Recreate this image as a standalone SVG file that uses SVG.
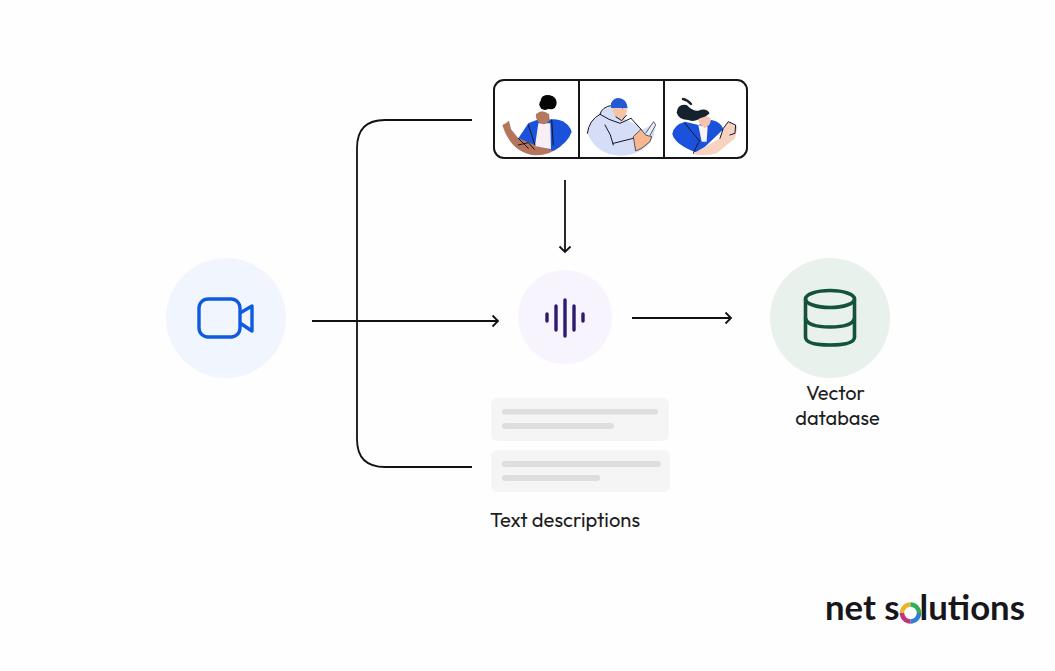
<svg xmlns="http://www.w3.org/2000/svg" width="1055" height="671" viewBox="0 0 1055 671">
<style>
.lbl{font-family:"Outfit","Lato","Liberation Sans",sans-serif;font-size:20px;font-weight:400;fill:#1d1d1f}
.con{fill:none;stroke:#111;stroke-width:1.8}
.ink{fill:none;stroke:#15151f;stroke-width:3;stroke-linecap:round;stroke-linejoin:round}
.card{fill:#f5f5f5}.bar{fill:#dedede}
.wave{stroke:#2b1a6e;stroke-width:3.4;stroke-linecap:round}
</style>
<defs>
<marker id="arr" markerWidth="12" markerHeight="14" refX="9.5" refY="7" orient="auto" markerUnits="userSpaceOnUse"><path d="M4 1.500 L9.500 7 L4 12.500" fill="none" stroke="#111" stroke-width="1.8"/></marker>
</defs>
<rect width="1055" height="671" fill="#fefefe"/>
<g id="connectors">
<path class="con" d="M472 120H385Q357 120 357 148V439Q357 467 385 467H472"/>
<path class="con" d="M312 321H498" marker-end="url(#arr)"/>
<path class="con" d="M565 180V252" marker-end="url(#arr)"/>
<path class="con" d="M632 318H731" marker-end="url(#arr)"/>
</g>
<g id="video-node">
<circle cx="226" cy="318" r="60" fill="#f1f5fe"/>
<rect x="199" y="299" width="41" height="38" rx="9" fill="none" stroke="#0f5be0" stroke-width="3.4"/>
<path d="M240 313L252 306V331L240 323" fill="none" stroke="#0f5be0" stroke-width="3.4" stroke-linejoin="round"/>
</g>
<g id="frames-node">
<rect x="494" y="80" width="253" height="78" rx="10" fill="#fff" stroke="#15151a" stroke-width="2"/>
<path d="M579 80V158M664 80V158" stroke="#15151a" stroke-width="2"/>
<g transform="translate(485 70) scale(.3333)">
<g id="person-1">
<path d="M52 165L62 160L72 152L78 178L100 205L195 235L232 225Q195 257 150 256Q78 248 52 165Z" fill="#b5745c"/>
<path d="M100 205L130 160L155 150L205 148Q248 150 260 185Q250 218 205 242L150 225Z" fill="#1a52dc"/>
<path d="M160 160L196 160L198 238L150 228Z" fill="#f8eff6"/>
<path d="M153 128Q172 112 192 130L194 150Q182 168 165 160Q150 150 153 128Z" fill="#b57a5e"/>
<path d="M152 130Q170 112 193 130" fill="none" stroke="#fff" stroke-width="5"/>
<ellipse cx="180" cy="103" rx="17" ry="17" fill="#050505"/>
<ellipse cx="198" cy="98" rx="17" ry="20" fill="#050505"/>
<ellipse cx="188" cy="88" rx="20" ry="13" fill="#050505"/>
<path class="ink" stroke-width="2" d="M200 150L205 225M130 165L150 225M100 205L130 235M100 225L130 218L148 238"/>
</g>
<g id="person-2">
<path d="M307 190Q312 150 345 135Q350 112 385 108L415 145L455 165L470 180L510 160Q512 215 470 240Q440 258 405 257Q335 255 307 190Z" fill="#d5ddf7"/>
<path class="ink" stroke-width="2.2" d="M307 190Q312 150 345 133M345 133Q350 110 382 106M345 133Q370 150 405 160L438 145M360 165Q380 195 385 225M438 145L470 180M385 220L445 205M415 145L412 108"/>
<path d="M378 100Q385 84 402 84Q425 86 428 115L378 114Z" fill="#2458d4"/>
<path d="M382 114L426 116Q425 145 405 150Q385 140 382 114Z" fill="#f6c4a5"/>
<path d="M392 140L410 152L425 135" fill="none" stroke="#15151f" stroke-width="3"/>
<path d="M445 200L468 178L482 195L500 200L495 215L470 235L452 243Z" fill="#f6b88e" stroke="#15151f" stroke-width="2" stroke-linejoin="round"/>
<path d="M482 190L506 155L512 165L494 198" fill="#e8eefc" stroke="#15151f" stroke-width="2"/>
</g>
<g id="person-3">
<path d="M562 192Q565 165 600 155L640 165L680 150Q708 155 715 178L640 250Q570 225 562 192Z" fill="#1a52dc"/>
<path d="M622 252L705 205L715 175L730 155L758 170L750 205L695 250Q660 260 622 252Z" fill="#f8d2c0"/>
<path class="ink" stroke-width="2" d="M705 205L715 175L730 155L752 165L750 190L735 195M600 160L645 215M625 250L640 218"/>
<path d="M640 165L668 170L665 215L650 215Z" fill="#f9f3f6"/>
<path d="M638 145Q660 130 677 145Q680 165 660 174Q642 165 638 145Z" fill="#f2c3ae"/>
<path d="M575 128Q578 100 605 105Q625 125 640 122Q665 112 674 130Q665 140 645 145Q630 158 610 150Q582 150 575 128Z" fill="#13222d"/>
<path d="M594 87Q608 90 618 102" fill="none" stroke="#13222d" stroke-width="7" stroke-linecap="round"/>
</g>
</g>
</g>
<g id="audio-node">
<circle cx="565" cy="317" r="47" fill="#f7f4fe"/>
<path class="wave" d="M547 314V321M556 306V330M565 300V336M574 306V330M583 314V321"/>
</g>
<g id="text-node">
<rect class="card" x="491" y="398" width="178" height="43" rx="6"/>
<rect class="bar" x="502" y="409" width="156" height="5.500" rx="2.700"/>
<rect class="bar" x="502" y="423" width="112" height="6" rx="3"/>
<rect class="card" x="491" y="450" width="179" height="42" rx="6"/>
<rect class="bar" x="502" y="461" width="159" height="6" rx="3"/>
<rect class="bar" x="502" y="475" width="98" height="6" rx="3"/>
<text class="lbl" x="490" y="527" textLength="150" lengthAdjust="spacingAndGlyphs">Text descriptions</text>
</g>
<g id="database-node">
<circle cx="830" cy="318" r="60" fill="#e8f1ec"/>
<g fill="none" stroke="#14523a" stroke-width="3.6">
<ellipse cx="830" cy="299" rx="24.500" ry="8.500"/>
<path d="M805.500 299V337Q805.500 345 830 345Q854.500 345 854.500 337V299"/>
<path d="M805.500 318Q807 327 830 327Q853 327 854.500 318"/>
</g>
<text class="lbl" x="835.500" y="400" text-anchor="middle">Vector</text>
<text class="lbl" x="837.500" y="425" text-anchor="middle">database</text>
</g>
<g id="logo">
<text x="825" y="620" font-family="Lato,'Liberation Sans',sans-serif" font-size="35" font-weight="700" fill="#17171a" textLength="200" lengthAdjust="spacingAndGlyphs">net s<tspan fill-opacity="0">o</tspan>lutions</text>
<g fill="none" stroke-width="4.5">
<path d="M902 613A8.500 8.500 0 0 1 910.500 604.500" stroke="#e9b52c"/>
<path d="M910.500 604.500A8.500 8.500 0 0 1 919 613" stroke="#2fae5c"/>
<path d="M919 613A8.500 8.500 0 0 1 910.500 621.500" stroke="#2f7fd8"/>
<path d="M910.500 621.500A8.500 8.500 0 0 1 902 613" stroke="#c2337e"/>
</g>
</g>
</svg>
